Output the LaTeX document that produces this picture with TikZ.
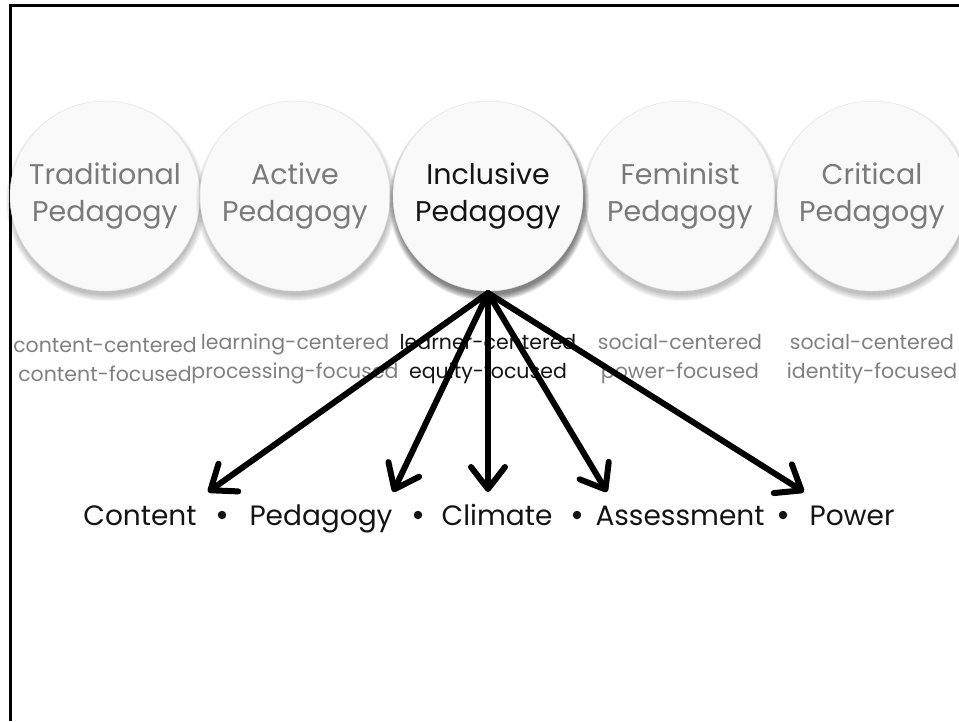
\documentclass[tikz,border=0pt]{standalone}
\usepackage{fontspec}
\setmainfont{Poppins}
\usetikzlibrary{arrows.meta}
\newcommand\pedshadow[3]{%
  \foreach \r in {94,95,96,97,98,99,100}{%
    \fill[black, opacity=#3] (#1+1,#2+5) circle[radius=\r pt];}}
\begin{document}
\begin{tikzpicture}[x=1pt,y=-1pt,
  pedcirc/.style={circle, minimum size=190pt, inner sep=0pt, fill=black!2.5,
    draw=black!10, line width=0.5pt, align=center,
    font=\fontsize{28.5}{37}\selectfont, text=black!52},
  keycirc/.style={pedcirc, text=black!92},
  sublabel/.style={font=\fontsize{20.5}{29}\selectfont, align=center, text=black!50, inner sep=0pt},
  keylabel/.style={sublabel, text=black!92},
  item/.style={font=\fontsize{28}{34}\selectfont, anchor=base, inner sep=0pt, text=black!92},
  dot/.style={circle, fill=black!92, minimum size=8.5pt, inner sep=0pt},
  conn/.style={line width=6pt, line cap=round, line join=round,
    -{Straight Barb[length=22pt, width=34pt, round]}},
  frame/.style={line width=2.2pt, black}]
\useasboundingbox (0,0) rectangle (959,721);
% frame
\coordinate (fbl) at (10.5,721);
\coordinate (ftl) at (10.5,5.5);
\coordinate (ftr) at (959,5.5);
\draw[frame] (fbl) -- (ftl) -- (ftr);
% circles
\pedshadow{105}{196}{0.04}
\node[pedcirc] (trad) at (105,196) {Traditional\\Pedagogy};
\pedshadow{295}{196}{0.04}
\node[pedcirc] (act) at (295,196) {Active\\Pedagogy};
\pedshadow{680}{196}{0.04}
\node[pedcirc] (fem) at (680,196) {Feminist\\Pedagogy};
\pedshadow{872}{196}{0.04}
\node[pedcirc] (crit) at (872,196) {Critical\\Pedagogy};
\pedshadow{488}{196}{0.09}
\node[keycirc] (incl) at (488,196) {Inclusive\\Pedagogy};
% sub labels
\node[sublabel] (l1) at (105,359) {content-centered\\content-focused};
\node[sublabel] (l2) at (295,359) {learning-centered\\processing-focused};
\node[keylabel] (l3) at (488,359) {learner-centered\\equity-focused};
\node[sublabel] (l4) at (680,359) {social-centered\\power-focused};
\node[sublabel] (l5) at (872,359) {social-centered\\identity-focused};
% bottom items
\node[item] (content) at (140,525) {Content};
\node[dot] (b1) at (222,515) {};
\node[item] (peda) at (321,525) {Pedagogy};
\node[dot] (b2) at (418,515) {};
\node[item] (clim) at (497,525) {Climate};
\node[dot] (b3) at (577,515) {};
\node[item] (assess) at (680,525) {Assessment};
\node[dot] (b4) at (783,515) {};
\node[item] (power) at (852,525) {Power};
% arrow tips
\coordinate (t1) at (208,492);
\coordinate (t2) at (393,492);
\coordinate (t3) at (488,492);
\coordinate (t4) at (607,492);
\coordinate (t5) at (804,492);
\coordinate (src) at (488,293);
\draw[conn] (src) -- (t1);
\draw[conn] (src) -- (t2);
\draw[conn] (src) -- (t3);
\draw[conn] (src) -- (t4);
\draw[conn] (src) -- (t5);
\end{tikzpicture}
\end{document}
